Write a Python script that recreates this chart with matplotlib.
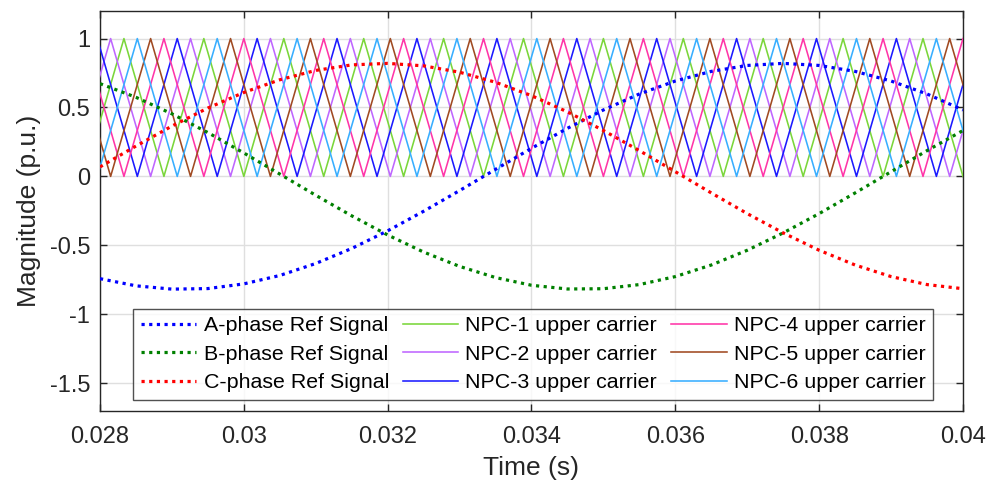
import matplotlib
matplotlib.use("Agg")
import matplotlib.pyplot as plt
import numpy as np

plt.rcParams['font.family'] = ['Liberation Sans', 'DejaVu Sans']

# reference signals, read every 0.5 ms
t_ref = [0.0280, 0.0285, 0.0290, 0.0295, 0.0300, 0.0305, 0.0310, 0.0315, 0.0320,
         0.0325, 0.0330, 0.0335, 0.0340, 0.0345, 0.0350, 0.0355, 0.0360, 0.0365,
         0.0370, 0.0375, 0.0380, 0.0385, 0.0390, 0.0395, 0.0400]
ref_a = [-0.742, -0.794, -0.818, -0.814, -0.780, -0.719, -0.632, -0.523, -0.395,
         -0.253, -0.103, 0.051, 0.204, 0.349, 0.482, 0.598, 0.692, 0.762,
         0.805, 0.820, 0.805, 0.762, 0.692, 0.598, 0.482]
ref_b = [0.673, 0.574, 0.454, 0.318, 0.170, 0.017, -0.137, -0.286, -0.425,
         -0.549, -0.653, -0.734, -0.790, -0.817, -0.815, -0.785, -0.727, -0.643,
         -0.536, -0.410, -0.270, -0.120, 0.034, 0.187, 0.333]
ref_c = [0.069, 0.220, 0.365, 0.496, 0.609, 0.701, 0.769, 0.809, 0.820,
         0.802, 0.756, 0.683, 0.586, 0.468, 0.333, 0.187, 0.034, -0.120,
         -0.270, -0.410, -0.536, -0.643, -0.727, -0.785, -0.815]

# carrier corner times (ms); NPC-1/4, NPC-2/5, NPC-3/6 share corners
corners_14 = [27.778, 28.333, 28.889, 29.444, 30.000, 30.556, 31.111, 31.667,
              32.222, 32.778, 33.333, 33.889, 34.444, 35.000, 35.556, 36.111,
              36.667, 37.222, 37.778, 38.333, 38.889, 39.444, 40.000]
corners_25 = [27.593, 28.148, 28.704, 29.259, 29.815, 30.370, 30.926, 31.481,
              32.037, 32.593, 33.148, 33.704, 34.259, 34.815, 35.370, 35.926,
              36.481, 37.037, 37.593, 38.148, 38.704, 39.259, 39.815, 40.370]
corners_36 = [27.407, 27.963, 28.519, 29.074, 29.630, 30.185, 30.741, 31.296,
              31.852, 32.407, 32.963, 33.519, 34.074, 34.630, 35.185, 35.741,
              36.296, 36.852, 37.407, 37.963, 38.519, 39.074, 39.630, 40.185]
npc1 = [0, 1, 0, 1, 0, 1, 0, 1, 0, 1, 0, 1, 0, 1, 0, 1, 0, 1, 0, 1, 0, 1, 0]
npc4 = [1, 0, 1, 0, 1, 0, 1, 0, 1, 0, 1, 0, 1, 0, 1, 0, 1, 0, 1, 0, 1, 0, 1]
npc2 = [0, 1, 0, 1, 0, 1, 0, 1, 0, 1, 0, 1, 0, 1, 0, 1, 0, 1, 0, 1, 0, 1, 0, 1]
npc5 = [1, 0, 1, 0, 1, 0, 1, 0, 1, 0, 1, 0, 1, 0, 1, 0, 1, 0, 1, 0, 1, 0, 1, 0]
npc3 = [0, 1, 0, 1, 0, 1, 0, 1, 0, 1, 0, 1, 0, 1, 0, 1, 0, 1, 0, 1, 0, 1, 0, 1]
npc6 = [1, 0, 1, 0, 1, 0, 1, 0, 1, 0, 1, 0, 1, 0, 1, 0, 1, 0, 1, 0, 1, 0, 1, 0]

carriers = [("NPC-1 upper carrier", corners_14, npc1, "#7AD63A"),
            ("NPC-2 upper carrier", corners_25, npc2, "#BE66FF"),
            ("NPC-3 upper carrier", corners_36, npc3, "#1A1AFF"),
            ("NPC-4 upper carrier", corners_14, npc4, "#FF35A8"),
            ("NPC-5 upper carrier", corners_25, npc5, "#A04A22"),
            ("NPC-6 upper carrier", corners_36, npc6, "#38AEFF")]

fig = plt.figure(figsize=(9.89, 4.87), dpi=100)
ax = fig.add_axes([0.1011, 0.1567, 0.8726, 0.8207])

dot = (0, (1, 1.4))
handles = []
handles += ax.plot(t_ref, ref_a, color="#0000FF", lw=2.3, ls=dot, zorder=4, label="A-phase Ref Signal")
handles += ax.plot(t_ref, ref_b, color="#008000", lw=2.3, ls=dot, zorder=4, label="B-phase Ref Signal")
handles += ax.plot(t_ref, ref_c, color="#FF0000", lw=2.3, ls=dot, zorder=4, label="C-phase Ref Signal")
for name, tc, vals, col in carriers:
    handles += ax.plot(np.array(tc) / 1000, vals, color=col, lw=1.15, zorder=3, label=name)

ax.set_xlim(0.028, 0.04)
ax.set_ylim(-1.7, 1.2)
ax.set_xticks([0.028, 0.03, 0.032, 0.034, 0.036, 0.038, 0.04])
ax.set_xticklabels(["0.028", "0.03", "0.032", "0.034", "0.036", "0.038", "0.04"])
ax.set_yticks([-1.5, -1, -0.5, 0, 0.5, 1])
ax.set_yticklabels(["-1.5", "-1", "-0.5", "0", "0.5", "1"])
ax.grid(True, color="#DFDFDF", lw=1.0, zorder=0)
ax.set_axisbelow(True)
ax.tick_params(direction="in", length=5, width=1.0, top=True, right=True,
               labelsize=17, colors="#262626")
ax.tick_params(axis="x", pad=11)
ax.tick_params(axis="y", pad=7)
for s in ax.spines.values():
    s.set_color("#262626")
    s.set_linewidth(1.0)
ax.set_xlabel("Time (s)", fontsize=19, color="#262626", labelpad=6)
ax.set_ylabel("Magnitude (p.u.)", fontsize=19, color="#262626", labelpad=6)

leg = ax.legend(handles=handles, ncol=3, loc="lower center", bbox_to_anchor=(0.502, 0.027),
                fontsize=15.4, frameon=True, fancybox=False, handlelength=2.6,
                handletextpad=0.33, columnspacing=0.65, labelspacing=0.45,
                borderpad=0.35, borderaxespad=0)
leg.get_frame().set_edgecolor("#262626")
leg.get_frame().set_linewidth(1.0)
leg.set_zorder(5)

fig.savefig("out.png", dpi=100)
